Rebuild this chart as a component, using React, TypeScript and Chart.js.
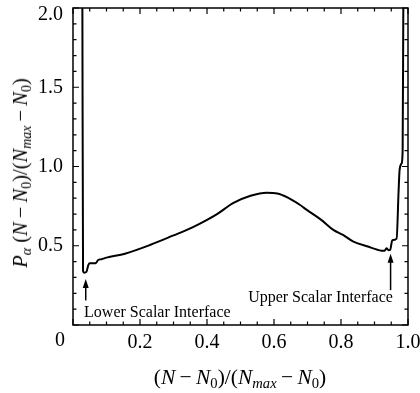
import React, { useEffect, useRef } from 'react';
import { Chart, registerables } from 'chart.js';

Chart.register(...registerables);

// Normalized particle number (N - N0)/(Nmax - N0)
const normalizedN = [
  0.028, 0.030, 0.033, 0.040, 0.046, 0.050, 0.068, 0.075, 0.085, 0.100,
  0.155, 0.230, 0.300, 0.340, 0.379, 0.430, 0.479, 0.530, 0.578, 0.610,
  0.640, 0.678, 0.698, 0.740, 0.777, 0.806, 0.837, 0.880, 0.921, 0.930,
  0.936, 0.942, 0.947, 0.953, 0.966, 0.972, 0.975, 0.981, 0.984, 0.986,
];
// Scaled probability P_alpha (N - N0)/(Nmax - N0)
const scaledProbability = [
  2.00, 0.34, 0.33, 0.335, 0.38, 0.39, 0.39, 0.41, 0.415, 0.425,
  0.45, 0.505, 0.565, 0.60, 0.64, 0.70, 0.77, 0.815, 0.835, 0.83,
  0.805, 0.757, 0.726, 0.665, 0.60, 0.568, 0.526, 0.495, 0.469, 0.468,
  0.484, 0.472, 0.475, 0.535, 0.545, 0.85, 0.98, 1.02, 1.10, 2.00,
];

const xTickStep = 0.2;
const yTickStep = 0.5;
const yMax = 2;

// Annotations
const annotationLabels = ['Lower Scalar Interface', 'Upper Scalar Interface'];
const annotationArrowX = [0.038, 0.948];
const annotationArrowTip = [0.29, 0.45];
const annotationArrowTail = [0.155, 0.22];
const annotationTextX = [0.033, 0.955];
const annotationTextY = [0.05, 0.145];
const annotationTextAlign: CanvasTextAlign[] = ['left', 'right'];

const SERIF = '"Liberation Serif", "Times New Roman", serif';

const framePlugin = {
  id: 'framePlugin',
  afterDatasetsDraw(chart: any) {
    const { ctx, chartArea: a, scales } = chart;
    const x = scales.x;
    const y = scales.y;
    ctx.save();
    ctx.strokeStyle = '#000';
    ctx.fillStyle = '#000';
    // frame
    ctx.lineWidth = 1.5;
    ctx.strokeRect(a.left, a.top, a.right - a.left, a.bottom - a.top);
    // inward ticks
    ctx.lineWidth = 1.2;
    ctx.beginPath();
    for (let i = 0; i <= 20; i++) {
      const px = x.getPixelForValue(i * 0.05);
      const len = i % 4 === 0 ? 6 : 3.5;
      ctx.moveTo(px, a.bottom);
      ctx.lineTo(px, a.bottom - len);
      ctx.moveTo(px, a.top);
      ctx.lineTo(px, a.top + len);
    }
    for (let i = 0; i <= 20; i++) {
      const py = y.getPixelForValue(i * 0.1);
      const len = i % 5 === 0 ? 6 : 3.5;
      ctx.moveTo(a.left, py);
      ctx.lineTo(a.left + len, py);
      ctx.moveTo(a.right, py);
      ctx.lineTo(a.right - len, py);
    }
    ctx.stroke();

    // origin label "0" and top label (shifted as in the original figure)
    ctx.font = `20px ${SERIF}`;
    ctx.textAlign = 'center';
    ctx.textBaseline = 'top';
    ctx.fillText('0', x.getPixelForValue(0) - 13, a.bottom + 6);
    ctx.textAlign = 'right';
    ctx.textBaseline = 'middle';
    ctx.fillText(yMax.toFixed(1), a.left - 10, y.getPixelForValue(yMax) + 7);

    // arrows + labels
    ctx.lineWidth = 1.5;
    for (let i = 0; i < annotationLabels.length; i++) {
      const px = x.getPixelForValue(annotationArrowX[i]);
      const tip = y.getPixelForValue(annotationArrowTip[i]);
      const tail = y.getPixelForValue(annotationArrowTail[i]);
      ctx.beginPath();
      ctx.moveTo(px, tail);
      ctx.lineTo(px, tip + 6);
      ctx.stroke();
      ctx.beginPath();
      ctx.moveTo(px, tip);
      ctx.lineTo(px - 3, tip + 9);
      ctx.lineTo(px + 3, tip + 9);
      ctx.closePath();
      ctx.fill();

      ctx.font = `16px ${SERIF}`;
      ctx.textAlign = annotationTextAlign[i];
      ctx.textBaseline = 'alphabetic';
      ctx.fillText(
        annotationLabels[i],
        x.getPixelForValue(annotationTextX[i]),
        y.getPixelForValue(annotationTextY[i])
      );
    }
    ctx.restore();
  },
};

const subStyle: React.CSSProperties = {
  fontSize: '0.68em',
  verticalAlign: '-0.3em',
  lineHeight: 0,
};

function AxisExpr({ prefix }: { prefix?: boolean }) {
  return (
    <>
      {prefix && (
        <>
          <i>P</i>
          <sub style={subStyle}><i>α</i></sub>
          {'\u00a0'}
        </>
      )}
      (<i>N</i>{'\u2009−\u2009'}<i>N</i>
      <sub style={subStyle}>0</sub>)/(<i>N</i>
      <sub style={subStyle}><i>max</i></sub>
      {'\u2009−\u2009'}<i>N</i>
      <sub style={subStyle}>0</sub>)
    </>
  );
}

export default function App() {
  const canvasRef = useRef<HTMLCanvasElement | null>(null);

  useEffect(() => {
    if (!canvasRef.current) return;
    const points = normalizedN.map((v, i) => ({ x: v, y: scaledProbability[i] }));
    const chart = new Chart(canvasRef.current, {
      type: 'scatter',
      data: {
        datasets: [
          {
            data: points,
            showLine: true,
            borderColor: '#000',
            borderWidth: 2,
            pointRadius: 0,
            cubicInterpolationMode: 'monotone',
            fill: false,
          },
        ],
      },
      options: {
        responsive: false,
        animation: false,
        devicePixelRatio: 1,
        layout: { padding: { left: 0, right: 12, top: 8, bottom: 0 } },
        plugins: {
          legend: { display: false },
          tooltip: { enabled: false },
        },
        scales: {
          x: {
            type: 'linear',
            min: 0,
            max: 1,
            grid: { display: false, drawTicks: false, tickLength: 0 },
            border: { display: false },
            ticks: {
              stepSize: xTickStep,
              color: '#000',
              padding: 6,
              maxRotation: 0,
              font: { family: SERIF, size: 20 },
              callback: (v: any) => (Number(v) === 0 ? '' : Number(v).toFixed(1)),
            },
            afterFit: (s: any) => {
              s.height = 68;
              s.paddingLeft = 0;
              s.paddingRight = 0;
            },
          },
          y: {
            type: 'linear',
            min: 0,
            max: yMax,
            grid: { display: false, drawTicks: false, tickLength: 0 },
            border: { display: false },
            ticks: {
              stepSize: yTickStep,
              color: '#000',
              padding: 10,
              font: { family: SERIF, size: 20 },
              callback: (v: any) =>
                Number(v) === 0 || Number(v) === yMax ? '' : Number(v).toFixed(1),
            },
            afterFit: (s: any) => {
              s.width = 73;
              s.paddingTop = 0;
              s.paddingBottom = 0;
            },
          },
        },
      },
      plugins: [framePlugin],
    });
    return () => chart.destroy();
  }, []);

  return (
    <div
      style={{
        position: 'fixed',
        left: 0,
        top: 0,
        width: 420,
        height: 393,
        background: '#fff',
        fontFamily: SERIF,
        color: '#000',
      }}
    >
      <canvas ref={canvasRef} width={420} height={393} style={{ position: 'absolute', left: 0, top: 0 }} />
      <div
        style={{
          position: 'absolute',
          left: 240,
          top: 377,
          transform: 'translate(-50%, -50%)',
          whiteSpace: 'nowrap',
          fontSize: 21.5,
          lineHeight: '24px',
        }}
      >
        <AxisExpr />
      </div>
      <div
        style={{
          position: 'absolute',
          left: 20,
          top: 173,
          transform: 'translate(-50%, -50%) rotate(-90deg)',
          whiteSpace: 'nowrap',
          fontSize: 20.5,
          lineHeight: '24px',
        }}
      >
        <AxisExpr prefix />
      </div>
    </div>
  );
}
